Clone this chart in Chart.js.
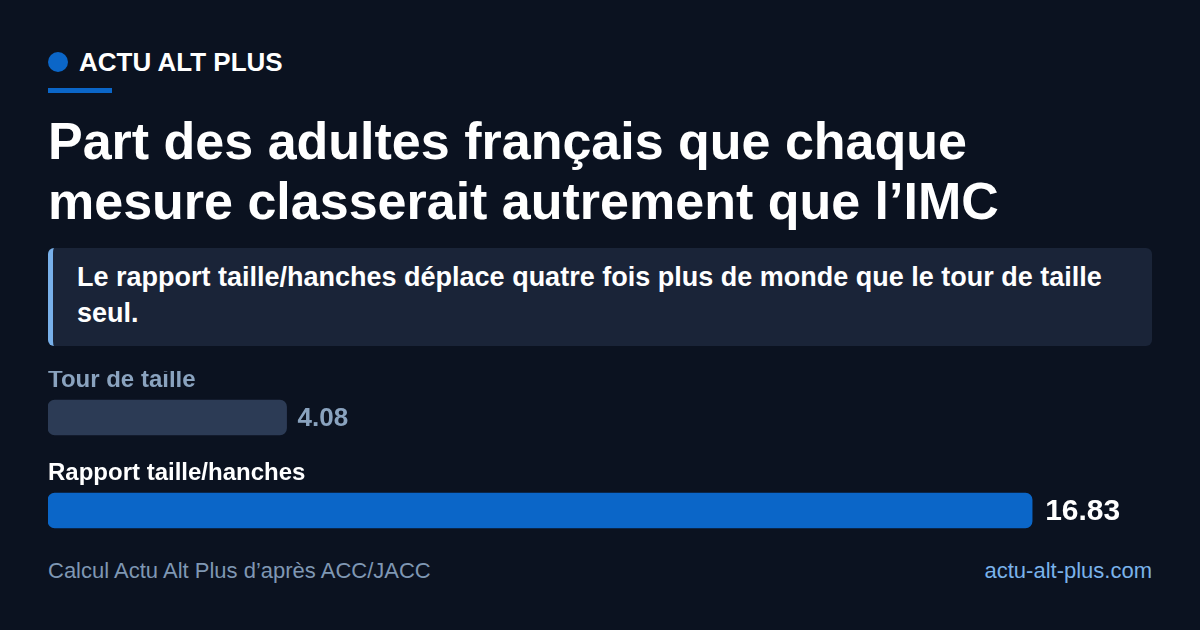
<!DOCTYPE html>
<html lang="fr">
<head>
<meta charset="utf-8">
<script src="https://cdn.jsdelivr.net/npm/chart.js@4"></script>
<style>
  html, body { margin: 0; padding: 0; }
  body {
    width: 1200px; height: 630px; overflow: hidden; position: relative;
    background: #0b1220; font-family: "Liberation Sans", Arial, sans-serif; color: #fff;
  }
  .brand { position: absolute; left: 48px; top: 47px; height: 30px; display: flex; align-items: center; }
  .brand .dot { width: 20px; height: 20px; border-radius: 50%; background: #0b66c8; margin-right: 11px; }
  .brand span { font-weight: bold; font-size: 26px; }
  .rule { position: absolute; left: 48px; top: 88px; width: 64px; height: 5px; background: #0b66c8; }
  h1 { position: absolute; left: 48px; top: 111px; margin: 0; font-size: 52px; line-height: 60px; font-weight: bold; width: 1100px; }
  .callout {
    position: absolute; left: 48px; top: 248px; width: 1104px; height: 98px; box-sizing: border-box;
    background: #1a2438; border-left: 5px solid #78b0ea; border-radius: 6px;
    padding: 11px 40px 0 24px; font-weight: bold; font-size: 27px; line-height: 36px;
  }
  #wrap { position: absolute; left: 48px; top: 371px; width: 1104px; height: 186px; }
  .foot { position: absolute; top: 557px; font-size: 22px; line-height: 28px; }
  .src { left: 48px; color: #7f97b3; }
  .site { right: 48px; color: #7ab2ea; }
</style>
</head>
<body>
<div class="brand"><div class="dot"></div><span>ACTU ALT PLUS</span></div>
<div class="rule"></div>
<h1>Part des adultes français que chaque<br>mesure classerait autrement que l’IMC</h1>
<div class="callout">Le rapport taille/hanches déplace quatre fois plus de monde que le tour de taille seul.</div>
<div id="wrap"><canvas id="chart"></canvas></div>
<div class="foot src">Calcul Actu Alt Plus d’après ACC/JACC</div>
<div class="foot site">actu-alt-plus.com</div>
<script>
// Data
const categories = ['Tour de taille', 'Rapport taille/hanches'];
const values = [4.08, 16.83];
const barColors = ['#2c3b55', '#0b66c8'];
const labelColors = ['#8aa3bf', '#ffffff'];

// Labels above bars + values at bar ends
const barText = {
  id: 'barText',
  afterDatasetsDraw(chart) {
    const ctx = chart.ctx;
    const meta = chart.getDatasetMeta(0);
    meta.data.forEach((bar, i) => {
      const top = bar.y - bar.height / 2;
      ctx.save();
      ctx.fillStyle = labelColors[i];
      ctx.textBaseline = 'middle';
      ctx.textAlign = 'left';
      ctx.font = 'bold 24px "Liberation Sans", Arial, sans-serif';
      ctx.fillText(categories[i], chart.chartArea.left, top - 20);
      ctx.font = i === 1 ? 'bold 30px "Liberation Sans", Arial, sans-serif' : 'bold 26px "Liberation Sans", Arial, sans-serif';
      ctx.fillText(values[i].toFixed(2), bar.x + (i === 1 ? 13 : 11), bar.y + 1);
      ctx.restore();
    });
  }
};

new Chart(document.getElementById('chart'), {
  type: 'bar',
  data: {
    labels: categories,
    datasets: [{
      data: values,
      backgroundColor: barColors,
      borderRadius: 7,
      borderSkipped: false,
      barThickness: 35
    }]
  },
  options: {
    indexAxis: 'y',
    responsive: true,
    maintainAspectRatio: false,
    animation: false,
    layout: { padding: 0 },
    plugins: { legend: { display: false }, tooltip: { enabled: false } },
    scales: {
      x: { display: false, min: 0, max: 18.88 },
      y: { display: false }
    }
  },
  plugins: [barText]
});
</script>
</body>
</html>
